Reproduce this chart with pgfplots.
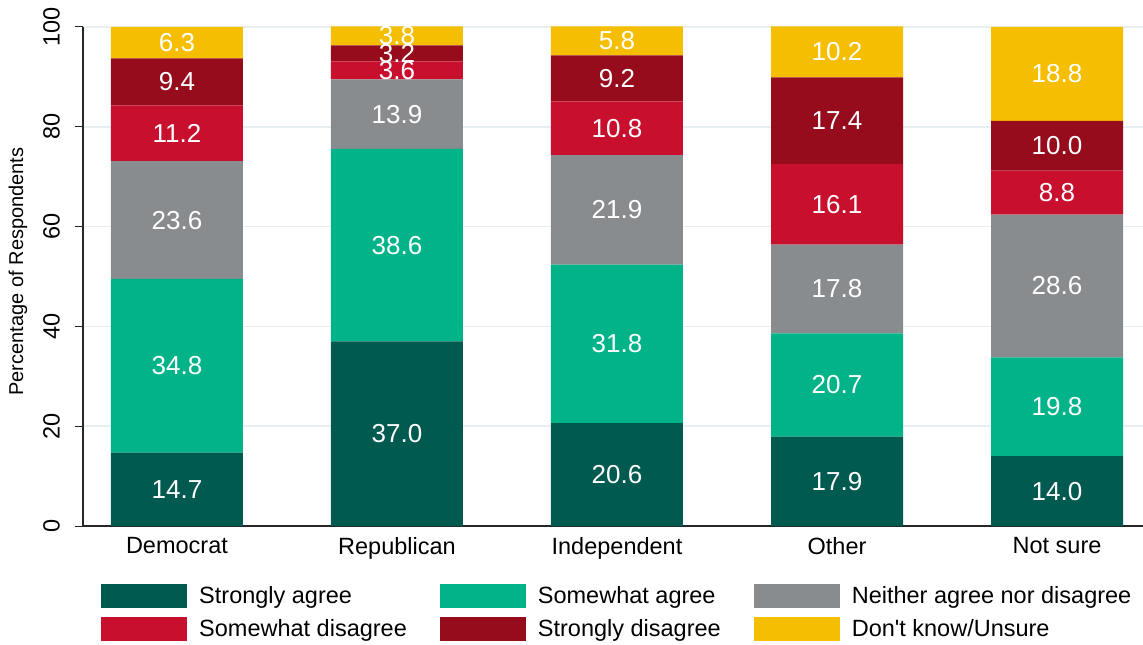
\documentclass[border=0pt]{standalone}
\usepackage{fontspec}
\setmainfont{Liberation Sans}
\usepackage{pgfplots}
\pgfplotsset{compat=1.18}
\definecolor{c1}{RGB}{0,90,80}
\definecolor{c2}{RGB}{0,179,137}
\definecolor{c3}{RGB}{137,140,142}
\definecolor{c4}{RGB}{200,16,46}
\definecolor{c5}{RGB}{150,12,28}
\definecolor{c6}{RGB}{245,190,0}
\definecolor{gridc}{RGB}{232,239,242}
\newcommand\fA{\fontsize{23.5}{28}\selectfont}
\newcommand\fB{\fontsize{26}{30}\selectfont}
\newcommand\fC{\fontsize{20}{24}\selectfont}
\pgfplotsset{
  common/.style={
    at={(83pt,119pt)}, anchor=south west,
    scale only axis, width=1060pt, height=499pt,
    xmin=-0.427, xmax=4.391, ymin=0, ymax=100,
  }
}
\begin{document}
\begin{tikzpicture}[x=1pt,y=1pt]
\useasboundingbox (0,0) rectangle (1143,645);
\begin{axis}[
  common,
  ybar stacked, bar width=132pt,
  axis x line*=bottom, axis y line*=left,
  axis line style={-, line width=1.3pt, black!85},
  /pgf/number format/assume math mode=true,
  ytick={0,20,40,60,80,100},
  tick align=outside, major tick length=8pt,
  ytick style={line width=1pt, black!85},
  xtick={0,1,2,3,4},
  xticklabels={Democrat,Republican,Independent,Other,Not sure},
  xtick style={draw=none},
  xticklabel style={font=\fA},
  yticklabel style={font=\fA, rotate=90, anchor=south, inner ysep=15pt},
  ymajorgrids, major grid style={gridc, line width=1.5pt},
  ylabel={Percentage of Respondents},
  ylabel style={font=\fC, at={(axis description cs:-0.0613,0.51)}, anchor=center},
  legend columns=3,
  legend cell align=left,
  legend image code/.code={\fill[#1] (0pt,-12pt) rectangle (86pt,12pt);},
  legend style={at={(axis description cs:0.017,-0.116)}, anchor=north west, draw=none, fill=none, inner sep=0pt, font=\fA, row sep=9pt,
    nodes={inner ysep=1pt, inner xsep=6pt},
    /tikz/every even column/.append style={column sep=27pt},
    /tikz/every odd column/.append style={column sep=6pt}},
]
\addplot[fill=c1, draw=none] coordinates {(0,14.7) (1,37.0) (2,20.6) (3,17.9) (4,14.0)};
\addplot[fill=c2, draw=none] coordinates {(0,34.8) (1,38.6) (2,31.8) (3,20.7) (4,19.8)};
\addplot[fill=c3, draw=none] coordinates {(0,23.6) (1,13.9) (2,21.9) (3,17.8) (4,28.6)};
\addplot[fill=c4, draw=none] coordinates {(0,11.2) (1,3.6) (2,10.8) (3,16.1) (4,8.8)};
\addplot[fill=c5, draw=none] coordinates {(0,9.4) (1,3.2) (2,9.2) (3,17.4) (4,10.0)};
\addplot[fill=c6, draw=none] coordinates {(0,6.3) (1,3.8) (2,5.8) (3,10.2) (4,18.8)};
\legend{Strongly agree,Somewhat agree,Neither agree nor disagree,Somewhat disagree,Strongly disagree,Don\textquotesingle t know/Unsure}
\end{axis}
% value labels at the middle of each segment
\begin{axis}[
  common, hide axis, clip=false,
  nodes near coords,
  point meta=explicit symbolic,
  every node near coord/.append style={font=\fB, text=white, anchor=center},
  nodes near coords align=center,
]
\addplot[draw=none, mark=none] coordinates {(0,7.35)[14.7] (1,18.5)[37.0] (2,10.3)[20.6] (3,8.95)[17.9] (4,7.0)[14.0]};
\addplot[draw=none, mark=none] coordinates {(0,32.1)[34.8] (1,56.3)[38.6] (2,36.5)[31.8] (3,28.25)[20.7] (4,23.9)[19.8]};
\addplot[draw=none, mark=none] coordinates {(0,61.3)[23.6] (1,82.55)[13.9] (2,63.35)[21.9] (3,47.5)[17.8] (4,48.1)[28.6]};
\addplot[draw=none, mark=none] coordinates {(0,78.7)[11.2] (1,91.3)[3.6] (2,79.7)[10.8] (3,64.45)[16.1] (4,66.8)[8.8]};
\addplot[draw=none, mark=none] coordinates {(0,89.0)[9.4] (1,94.7)[3.2] (2,89.7)[9.2] (3,81.2)[17.4] (4,76.2)[10.0]};
\addplot[draw=none, mark=none] coordinates {(0,96.85)[6.3] (1,98.2)[3.8] (2,97.2)[5.8] (3,95.05)[10.2] (4,90.6)[18.8]};
\end{axis}
\end{tikzpicture}
\end{document}
